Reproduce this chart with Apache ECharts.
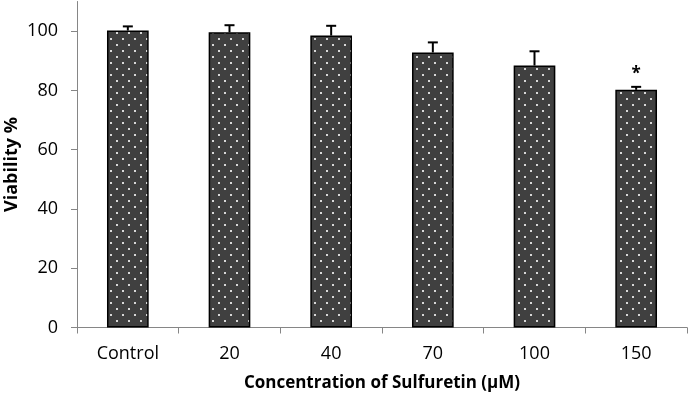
<!DOCTYPE html>
<html>
<head>
<meta charset="utf-8">
<script src="https://cdn.jsdelivr.net/npm/echarts@6/dist/echarts.min.js"></script>
<style>
  html, body { margin: 0; padding: 0; background: #fff; }
  #main { width: 690px; height: 397px; }
</style>
</head>
<body>
<div id="main"></div>
<script>
// data
var categories = ['Control', '20', '40', '70', '100', '150'];
var viability = [100.2, 99.6, 98.5, 92.8, 88.4, 80.2];
var errPlus = [1.4, 2.4, 3.3, 3.4, 4.8, 1.0];
var sigMarks = ['', '', '', '', '', '*'];
var yTicks = [0, 20, 40, 60, 80, 100];

// dotted fill like the excel pattern
function dotPattern() {
    var c = document.createElement('canvas');
    c.width = 12;
    c.height = 12;
    var ctx = c.getContext('2d');
    ctx.fillStyle = '#404040';
    ctx.fillRect(0, 0, 12, 12);
    ctx.fillStyle = '#d8d8d8';
    ctx.fillRect(2, 2, 2, 2);
    ctx.fillRect(8, 8, 2, 2);
    return c;
}

var font = 'Open Sans';
var errData = [];
for (var i = 0; i < categories.length; i++) {
    errData.push([i, viability[i], viability[i] + errPlus[i], sigMarks[i]]);
}

var myChart = echarts.init(document.getElementById('main'));
var option = {
    animation: false,
    grid: {
        left: 77,
        right: 3,
        top: 1.5,
        bottom: 69.5,
        outerBoundsMode: 'none'
    },
    xAxis: {
        type: 'category',
        data: categories,
        boundaryGap: true,
        axisLine: { lineStyle: { color: '#868686', width: 1 } },
        axisTick: { show: true, length: 6, lineStyle: { color: '#868686' } },
        axisLabel: { color: '#000', fontFamily: font, fontSize: 18, margin: 17 },
        name: 'Concentration of Sulfuretin (\u00b5M)',
        nameLocation: 'middle',
        nameGap: 47,
        nameMoveOverlap: false,
        nameTextStyle: { color: '#000', fontFamily: font, fontSize: 17, fontWeight: 'bold' }
    },
    yAxis: {
        type: 'value',
        min: 0,
        max: 110,
        interval: 20,
        splitLine: { show: false },
        axisLine: { show: true, lineStyle: { color: '#868686', width: 1 } },
        axisTick: { show: true, length: 6, lineStyle: { color: '#868686' }, customValues: yTicks },
        axisLabel: { color: '#000', fontFamily: font, fontSize: 18, margin: 19, customValues: yTicks },
        name: 'Viability %',
        nameLocation: 'middle',
        nameGap: 56,
        nameMoveOverlap: false,
        nameTextStyle: { color: '#000', fontFamily: font, fontSize: 18, fontWeight: 'bold' }
    },
    series: [{
        type: 'bar',
        data: viability,
        barWidth: '41%',
        itemStyle: {
            color: { image: dotPattern(), repeat: 'repeat' },
            borderColor: '#000',
            borderWidth: 1.5
        }
    }, {
        type: 'custom',
        data: errData,
        z: 5,
        renderItem: function (params, api) {
            var top = api.coord([api.value(0), api.value(1)]);
            var cap = api.coord([api.value(0), api.value(2)]);
            var half = 5;
            var children = [{
                type: 'line',
                shape: { x1: cap[0], y1: top[1], x2: cap[0], y2: cap[1] },
                style: { stroke: '#000', lineWidth: 2 }
            }, {
                type: 'line',
                shape: { x1: cap[0] - half, y1: cap[1], x2: cap[0] + half, y2: cap[1] },
                style: { stroke: '#000', lineWidth: 2 }
            }];
            var mark = api.value(3);
            if (mark) {
                children.push({
                    type: 'text',
                    style: {
                        text: mark,
                        x: cap[0],
                        y: cap[1] - 4,
                        align: 'center',
                        verticalAlign: 'bottom',
                        fill: '#000',
                        font: 'bold 17px "Open Sans"'
                    }
                });
            }
            return { type: 'group', children: children };
        }
    }]
};
myChart.setOption(option);
</script>
</body>
</html>
